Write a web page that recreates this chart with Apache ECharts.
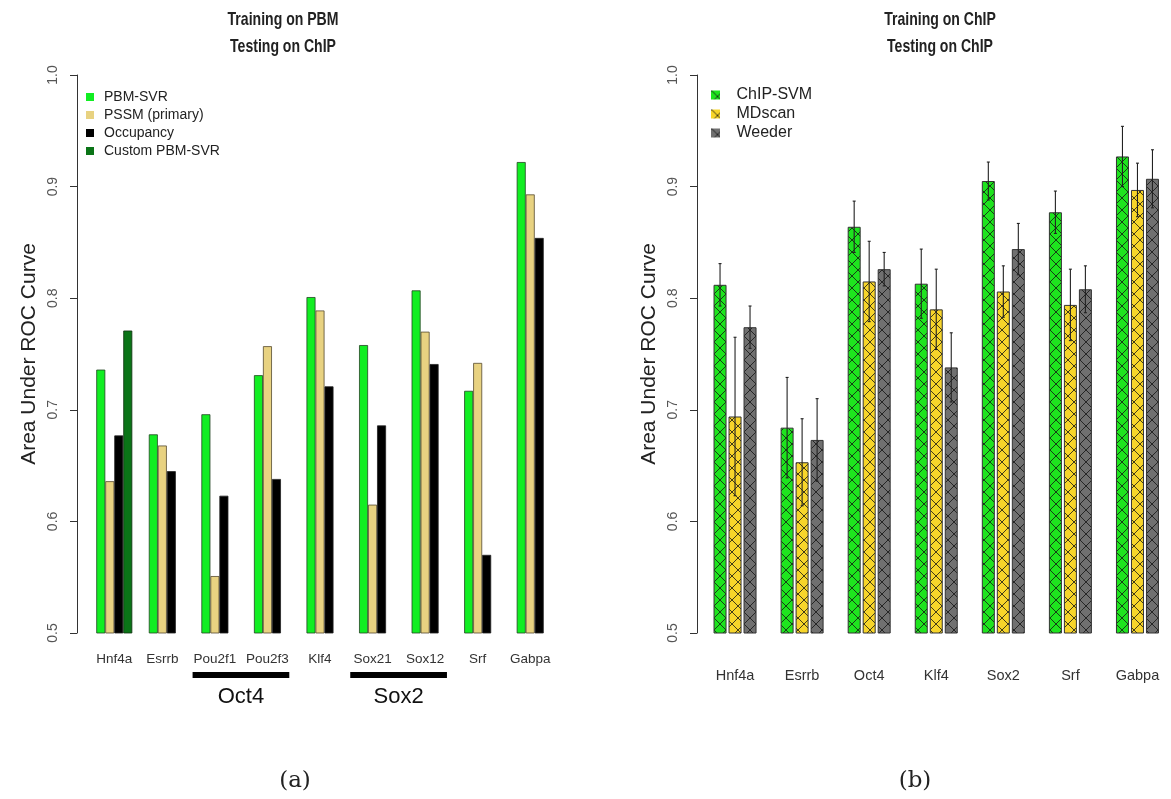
<!DOCTYPE html>
<html>
<head>
<meta charset="utf-8">
<script src="https://cdn.jsdelivr.net/npm/echarts@6/dist/echarts.min.js"></script>
<style>
html,body{margin:0;padding:0;background:#fff;}
#c{width:1171px;height:799px;}
</style>
</head>
<body>
<div id="c"></div>
<script>
// ---------- data ----------
const leftCats = ['Hnf4a','Esrrb','Pou2f1','Pou2f3','Klf4','Sox21','Sox12','Srf','Gabpa'];
const pbmSvr    = [0.736, 0.678, 0.696, 0.731, 0.801, 0.758, 0.807, 0.717, 0.922];
const pssm      = [0.636, 0.668, 0.551, 0.757, 0.789, 0.615, 0.770, 0.742, 0.893];
const occupancy = [0.677, 0.645, 0.623, 0.638, 0.721, 0.686, 0.741, 0.570, 0.854];
const customPbm = [0.771, null, null, null, null, null, null, null, null];
const leftGroups = [
  {name:'Oct4', from:'Pou2f1', to:'Pou2f3'},
  {name:'Sox2', from:'Sox21', to:'Sox12'}
];

const rightCats = ['Hnf4a','Esrrb','Oct4','Klf4','Sox2','Srf','Gabpa'];
const chipSvm    = [0.812, 0.684, 0.864, 0.813, 0.905, 0.877, 0.927];
const mdscan     = [0.694, 0.653, 0.815, 0.790, 0.806, 0.794, 0.897];
const weeder     = [0.774, 0.673, 0.826, 0.738, 0.844, 0.808, 0.907];
const chipSvmErr = [0.019, 0.045, 0.023, 0.031, 0.017, 0.019, 0.027];
const mdscanErr  = [0.071, 0.039, 0.036, 0.036, 0.023, 0.032, 0.024];
const weederErr  = [0.019, 0.037, 0.015, 0.031, 0.023, 0.021, 0.026];

const yTicks = [0.5, 0.6, 0.7, 0.8, 0.9, 1.0];
const titleLeft = ['Training on PBM', 'Testing on ChIP'];
const titleRight = ['Training on ChIP', 'Testing on ChIP'];

// ---------- styling ----------
const SANS = '"Liberation Sans", Arial, sans-serif';
const SERIF = '"DejaVu Serif", "Liberation Serif", serif';
const LBW = 9;            // left bar width
const RBW = 13, RGAP = 2; // right bar width / gap

function hatch(fill){
  const s = 12;
  const cv = document.createElement('canvas');
  cv.width = s; cv.height = s;
  const g = cv.getContext('2d');
  g.fillStyle = fill; g.fillRect(0,0,s,s);
  g.strokeStyle = 'rgba(20,20,20,0.8)'; g.lineWidth = 1.0;
  g.beginPath();
  g.moveTo(0,0); g.lineTo(s,s);
  g.moveTo(s,0); g.lineTo(0,s);
  g.stroke();
  return {image: cv, repeat: 'repeat'};
}
const greenH = hatch('#1ee41e');
const yellowH = hatch('#f7d52a');
const grayH = hatch('#707070');

const squareIcon = 'path://M0,0H8V8H0Z';

function errSeries(name, vals, errs, idx){
  const data = vals.map((v,i)=>[i, v, errs[i]]);
  return {
    type:'custom', name: name+'-err', xAxisIndex:1, yAxisIndex:1, z:10,
    silent:true,
    encode:{x:0, y:1},
    data: data,
    renderItem: function(params, api){
      const i = api.value(0), v = api.value(1), e = api.value(2);
      const off = (idx-1)*(RBW+RGAP);
      const x = api.coord([i, v])[0] + off;
      const yh = api.coord([i, v+e])[1];
      const yl = api.coord([i, v-e])[1];
      const st = {stroke:'#222', lineWidth:1.1};
      return {type:'group', children:[
        {type:'line', shape:{x1:x,y1:yh,x2:x,y2:yl}, style:st},
        {type:'line', shape:{x1:x-1.5,y1:yh,x2:x+1.5,y2:yh}, style:st},
        {type:'line', shape:{x1:x-1.5,y1:yl,x2:x+1.5,y2:yl}, style:st}
      ]};
    }
  };
}

const yAxisBase = (gi, off) => ({
  type:'value', gridIndex:gi, min:0.5, max:1.0, interval:0.1, offset:off,
  name:'Area Under ROC Curve', nameLocation:'middle', nameGap:37,
  nameTextStyle:{fontFamily:SANS, fontSize:21, color:'#222'},
  axisLine:{show:true, lineStyle:{color:'#333', width:1}},
  axisTick:{show:true, length:7, lineStyle:{color:'#333'}},
  splitLine:{show:false},
  axisLabel:{rotate:90, margin:17, fontFamily:SANS, fontSize:14, color:'#555',
    formatter: v => v.toFixed(1)},
  data: yTicks
});

const option = {
  backgroundColor:'#fff',
  animation:false,
  title:[
    {text:'(a)', left:290, top:765, textAlign:'center',
     textStyle:{fontFamily:SERIF, fontWeight:'normal', fontSize:23, color:'#222'}},
    {text:'(b)', left:910, top:765, textAlign:'center',
     textStyle:{fontFamily:SERIF, fontWeight:'normal', fontSize:23, color:'#222'}}
  ],
  legend:[
    {orient:'vertical', left:81, top:85, itemWidth:18, itemHeight:8, itemGap:4,
     icon:squareIcon, itemStyle:{borderWidth:0},
     textStyle:{fontFamily:SANS, fontSize:14, color:'#222'},
     data:['PBM-SVR','PSSM (primary)','Occupancy','Custom PBM-SVR']},
    {orient:'vertical', left:706, top:82, itemWidth:32, itemHeight:9, itemGap:3,
     icon:squareIcon, itemStyle:{borderWidth:0},
     textStyle:{fontFamily:SANS, fontSize:16, color:'#222'},
     data:['ChIP-SVM','MDscan','Weeder']}
  ],
  grid:[
    {left:88, right:610, top:75, bottom:166},
    {left:701.5, right:-12.5, top:75, bottom:166}
  ],
  xAxis:[
    {type:'category', gridIndex:0, data:leftCats,
     axisLine:{show:false}, axisTick:{show:false},
     axisLabel:{interval:0, margin:19, fontFamily:SANS, fontSize:13.5, color:'#333',
       formatter: (v, i) => i === 0 ? v : '{s|' + v + '}',
       rich:{s:{fontFamily:SANS, fontSize:13.5, color:'#333', padding:[0,9,0,0]}}}},
    {type:'category', gridIndex:1, data:rightCats,
     axisLine:{show:false}, axisTick:{show:false},
     axisLabel:{interval:0, margin:35, fontFamily:SANS, fontSize:14.5, color:'#333'}}
  ],
  yAxis:[ yAxisBase(0, 11), yAxisBase(1, 4.5) ],
  series:[
    {type:'bar', name:'PBM-SVR', xAxisIndex:0, yAxisIndex:0, data:pbmSvr, barWidth:LBW, barGap:'0%',
     itemStyle:{color:'#11ee22', borderColor:'#224422', borderWidth:0.8}},
    {type:'bar', name:'PSSM (primary)', xAxisIndex:0, yAxisIndex:0, data:pssm, barWidth:LBW, barGap:'0%',
     itemStyle:{color:'#e8d281', borderColor:'#554a30', borderWidth:0.8}},
    {type:'bar', name:'Occupancy', xAxisIndex:0, yAxisIndex:0, data:occupancy, barWidth:LBW, barGap:'0%',
     itemStyle:{color:'#000000', borderColor:'#222', borderWidth:0.8}},
    {type:'bar', name:'Custom PBM-SVR', xAxisIndex:0, yAxisIndex:0, data:customPbm, barWidth:LBW, barGap:'0%',
     itemStyle:{color:'#0a7417', borderColor:'#103010', borderWidth:0.8}},

    {type:'bar', name:'ChIP-SVM', xAxisIndex:1, yAxisIndex:1, data:chipSvm, barWidth:RBW, barGap:(RGAP/RBW*100)+'%',
     itemStyle:{color:greenH, borderColor:'#333', borderWidth:1}},
    {type:'bar', name:'MDscan', xAxisIndex:1, yAxisIndex:1, data:mdscan, barWidth:RBW, barGap:(RGAP/RBW*100)+'%',
     itemStyle:{color:yellowH, borderColor:'#333', borderWidth:1}},
    {type:'bar', name:'Weeder', xAxisIndex:1, yAxisIndex:1, data:weeder, barWidth:RBW, barGap:(RGAP/RBW*100)+'%',
     itemStyle:{color:grayH, borderColor:'#333', borderWidth:1}},
    errSeries('ChIP-SVM', chipSvm, chipSvmErr, 0),
    errSeries('MDscan', mdscan, mdscanErr, 1),
    errSeries('Weeder', weeder, weederErr, 2)
  ]
};

const chart = echarts.init(document.getElementById('c'), null, {renderer:'canvas'});
chart.setOption(option);

// titles (condensed bold, as in the original)
const gEls = [];
[[titleLeft, 283], [titleRight, 940]].forEach(([lines, cx]) => {
  lines.forEach((t, k) => {
    gEls.push({type:'text', x:cx, y:20 + k*27, scaleX:0.74, silent:true,
      style:{text:t, fontFamily:SANS, fontWeight:'bold', fontSize:19, fill:'#222',
             align:'center', verticalAlign:'middle'}});
  });
});
// group annotations under left chart, positioned from the axis scale
leftGroups.forEach(g => {
  const x1 = chart.convertToPixel({xAxisIndex:0}, g.from);
  const x2 = chart.convertToPixel({xAxisIndex:0}, g.to);
  const band = (x2 - x1);
  const a = x1 - 0.51*band, b = x2 + 0.33*band;
  gEls.push({type:'rect', shape:{x:a, y:672, width:b-a, height:6}, style:{fill:'#000'}, silent:true});
  gEls.push({type:'text', x:(a+b)/2, y:697, style:{text:g.name, fontFamily:SANS, fontSize:22,
    fill:'#111', align:'center', verticalAlign:'middle'}, silent:true});
});
chart.setOption({graphic: gEls});
</script>
</body>
</html>
